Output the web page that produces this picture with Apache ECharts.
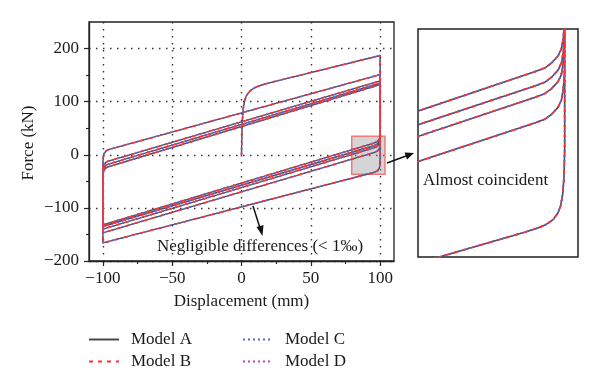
<!DOCTYPE html>
<html><head><meta charset="utf-8">
<script src="https://cdn.jsdelivr.net/npm/echarts@6/dist/echarts.min.js"></script>
<style>html,body{margin:0;padding:0;background:#fff}#c{width:600px;height:387px}</style>
</head><body><div id="c"></div>
<script>
// Hysteresis path (displacement mm, force kN)
const disp = [
  0, 0.2, 0.5, 1, 1.6, 2.5, 3.5, 5, 7, 10, 14, 20, 100,
  100, 99.9, 99.7, 99.4, 99, 98.3, 97.3, 96, 94, -100,
  -100, -99.85, -99.6, -99.2, -98.5, -97.5, -96, 100,
  100, 99.8, 99.5, 99, 98, 97, 95.5, -100,
  -100, -99.85, -99.6, -99.2, -98.5, -97.5, -96, 100,
  100, 99.8, 99.5, 99, 98, 97, 95.5, -100,
  -100, -99.85, -99.6, -99.2, -98.5, -97.5, -96, 100,
  100, 99.8, 99.5, 99, 98, 97, 95.5, -100,
  -100, -99.85, -99.6, -99.2, -98.5, -97.5, -96, 100,
  100, 99.8, 99.5, 99, 98, 97, 95.5, -100
];
const force = [
  0, 30, 60, 80, 93, 104, 111, 117, 122, 127, 131, 135.5, 187,
  -5, -15, -21, -25, -27.5, -29.8, -31.5, -32.8, -34.3, -166,
  -25, -10, -3, 2, 5.5, 7.8, 9.6, 151,
  23, 16, 12, 9.5, 7, 5.3, 4, -147,
  -45, -30, -23, -18.5, -15.5, -13.5, -12, 139,
  32, 25, 21, 18.5, 16, 14.3, 13, -140,
  -50, -35, -28.5, -24, -21, -19, -17.5, 135,
  36, 29, 25, 22.5, 20, 18.3, 17, -135,
  -55, -40, -33.5, -29, -26, -24, -22.5, 132,
  41, 34, 30, 27.5, 25, 23.3, 22, -132
];
// The four models are coincident (differences < 1‰)
const modelNames = ['Model A', 'Model B', 'Model C', 'Model D'];
const xTicks = [-100, -50, 0, 50, 100];
const xMinorTicks = [-75, -25, 25, 75];
const yTicks = [-200, -100, 0, 100, 200];
const yMinorTicks = [-150, -50, 50, 150];
const xRange = [-110, 110];
const yRange = [-200, 250];
const zoomBox = [79.5, 103.5, -36.5, 35];      // x0, x1, y0, y1 of highlighted area
const insetX = [78, 102];
const insetY = [-43, 37];

const pts = disp.map((d, i) => [d, force[i]]);
const FONT = '"Liberation Serif", "DejaVu Serif", serif';
const styles = {
  'Model A': { color: '#4a4a4a', type: 'solid' },
  'Model B': { color: '#ff3030', type: [4, 5] },
  'Model C': { color: '#4472d6', type: [2, 3] },
  'Model D': { color: '#c83cc8', type: [2, 3] }
};
const drawOrder = ['Model A', 'Model D', 'Model C', 'Model B'];
const fmt = v => String(v).replace('-', '\u2212');

const series = [];
drawOrder.forEach((name, k) => {
  const s = styles[name];
  series.push({
    name, type: 'line', xAxisIndex: 0, yAxisIndex: 0, data: pts,
    symbol: 'none', showSymbol: false, clip: true, z: 3 + k,
    lineStyle: { color: s.color, width: 1.4, type: s.type },
    itemStyle: { color: s.color },
    markArea: name === 'Model B' ? {
      silent: true,
      itemStyle: { color: 'rgba(150,150,150,0.4)', borderColor: '#f07a7a', borderWidth: 1.5 },
      data: [[{ coord: [zoomBox[0], zoomBox[3]] }, { coord: [zoomBox[1], zoomBox[2]] }]]
    } : undefined
  });
  series.push({
    name, type: 'line', xAxisIndex: 2, yAxisIndex: 2, data: pts,
    symbol: 'none', showSymbol: false, clip: true, z: 3 + k,
    lineStyle: { color: s.color, width: 1.6, type: s.type },
    itemStyle: { color: s.color }
  });
});

const axisText = { fontFamily: FONT, fontSize: 17, color: '#1a1a1a' };
const legendBase = {
  orient: 'vertical', top: 331, padding: 0, itemWidth: 30, itemHeight: 14, itemGap: 5,
  selectedMode: false, itemStyle: { opacity: 0 },
  textStyle: { fontFamily: FONT, fontSize: 17, color: '#1a1a1a', padding: [0, 0, 0, 7] }
};
const option = {
  animation: false,
  backgroundColor: '#fff',
  grid: [
    { left: 89, top: 22, width: 305, height: 239, show: true, borderColor: '#222', borderWidth: 1.3, backgroundColor: 'transparent' },
    { left: 418, top: 29, width: 160, height: 228, show: true, borderColor: '#222', borderWidth: 1.5, backgroundColor: 'transparent' }
  ],
  xAxis: [
    { type: 'value', gridIndex: 0, min: xRange[0], max: xRange[1], position: 'bottom',
      axisLine: { show: true, onZero: false, lineStyle: { color: '#222', width: 1.3 } },
      axisTick: { show: true, inside: false, length: 5, customValues: xTicks, lineStyle: { color: '#222', width: 1.2 } },
      axisLabel: { show: true, customValues: xTicks, margin: 9, formatter: fmt, ...axisText },
      splitLine: { show: true, lineStyle: { color: '#333', width: 1.4, type: [1.5, 5.5] } } },
    { type: 'value', gridIndex: 0, min: xRange[0], max: xRange[1], position: 'bottom',
      axisLine: { show: false, onZero: false },
      axisTick: { show: true, inside: false, length: 3, customValues: xMinorTicks, lineStyle: { color: '#222', width: 1.1 } },
      axisLabel: { show: false }, splitLine: { show: false } },
    { type: 'value', gridIndex: 1, min: insetX[0], max: insetX[1],
      axisLine: { show: false, onZero: false }, axisTick: { show: false }, axisLabel: { show: false }, splitLine: { show: false } }
  ],
  yAxis: [
    { type: 'value', gridIndex: 0, min: yRange[0], max: yRange[1], position: 'left',
      axisLine: { show: true, onZero: false, lineStyle: { color: '#222', width: 1.3 } },
      axisTick: { show: true, inside: false, length: 5, customValues: yTicks, lineStyle: { color: '#222', width: 1.2 } },
      axisLabel: { show: true, customValues: yTicks, margin: 10, formatter: fmt, ...axisText },
      splitLine: { show: true, lineStyle: { color: '#333', width: 1.4, type: [1.5, 5.5] } } },
    { type: 'value', gridIndex: 0, min: yRange[0], max: yRange[1], position: 'left',
      axisLine: { show: false, onZero: false },
      axisTick: { show: true, inside: false, length: 3, customValues: yMinorTicks, lineStyle: { color: '#222', width: 1.1 } },
      axisLabel: { show: false }, splitLine: { show: false } },
    { type: 'value', gridIndex: 1, min: insetY[0], max: insetY[1],
      axisLine: { show: false, onZero: false }, axisTick: { show: false }, axisLabel: { show: false }, splitLine: { show: false } }
  ],
  legend: [
    Object.assign({}, legendBase, { left: 88, data: ['Model A', 'Model B'] }),
    Object.assign({}, legendBase, { left: 242, data: ['Model C', 'Model D'] })
  ],
  graphic: [
    { type: 'text', x: 29, y: 143, rotation: Math.PI / 2,
      style: { text: 'Force (kN)', font: '17px ' + FONT, fill: '#1a1a1a', align: 'center', verticalAlign: 'middle' } },
    { type: 'text', x: 241.5, y: 302,
      style: { text: 'Displacement (mm)', font: '17px ' + FONT, fill: '#1a1a1a', align: 'center', verticalAlign: 'middle' } },
    { type: 'text', x: 157, y: 247, z: 20,
      style: { text: 'Negligible differences (< 1\u2030)', font: '17px ' + FONT, fill: '#1a1a1a', align: 'left', verticalAlign: 'middle' } },
    { type: 'text', x: 423, y: 181, z: 20,
      style: { text: 'Almost coincident', font: '17px ' + FONT, fill: '#1a1a1a', align: 'left', verticalAlign: 'middle' } },
    { type: 'line', z: 20, shape: { x1: 253, y1: 206, x2: 260, y2: 228 }, style: { stroke: '#111', lineWidth: 1.5 } },
    { type: 'polygon', z: 20, shape: { points: [[262.5, 236], [256.5, 227], [263.5, 225]] }, style: { fill: '#111' } },
    { type: 'line', z: 20, shape: { x1: 387, y1: 163, x2: 406, y2: 156 }, style: { stroke: '#111', lineWidth: 1.5 } },
    { type: 'polygon', z: 20, shape: { points: [[414, 153], [404.5, 152.5], [407, 159.5]] }, style: { fill: '#111' } }
  ],
  series
};
const chart = echarts.init(document.getElementById('c'), null, { renderer: 'canvas' });
chart.setOption(option);
</script>
</body></html>
